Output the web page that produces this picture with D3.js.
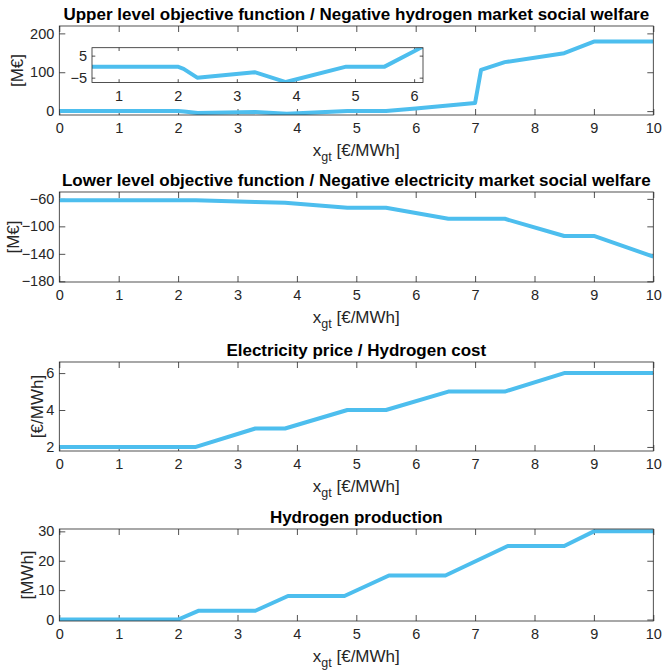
<!DOCTYPE html>
<html>
<head>
<meta charset="utf-8">
<script src="https://cdn.jsdelivr.net/npm/d3@7"></script>
<style>
  body { margin: 0; background: #fff; }
  svg { display: block; font-family: "Liberation Sans", Arial, Helvetica, sans-serif; }
  .tick text { fill: #262626; }
</style>
</head>
<body>
<div id="chart"></div>
<script>
// x axis values shared by every panel
const xTicks = [0, 1, 2, 3, 4, 5, 6, 7, 8, 9, 10];

// upper level objective (M€)
const upperX = [0, 2, 2.1, 2.33, 3.3, 3.83, 4.85, 5.5, 6, 6.5, 7, 7.1, 7.5, 8.5, 9, 10];
const upperY = [0, 0, -1, -5, -2.5, -7, 0, 0, 7, 14, 21, 106, 126, 149, 179, 179];
const upperTicks = [0, 100, 200];
const insetXTicks = [1, 2, 3, 4, 5, 6];
const insetYTicks = [-5, 5];

// lower level objective (M€)
const lowerX = [0, 2.3, 3.3, 3.8, 4.85, 5.5, 6.55, 7.5, 8.5, 9, 10];
const lowerY = [-62, -62, -64.5, -65.5, -73, -73, -89, -89, -114, -114, -144];
const lowerTicks = [-180, -140, -100, -60];

// electricity price (€/MWh)
const priceX = [0, 2.3, 3.3, 3.8, 4.85, 5.5, 6.55, 7.5, 8.5, 10];
const priceY = [2, 2, 3, 3, 4, 4, 5, 5, 6, 6];
const priceTicks = [2, 4, 6];

// hydrogen production (MWh)
const h2X = [0, 2, 2.35, 3.3, 3.85, 4.8, 5.55, 6.5, 7.55, 8.5, 9, 10];
const h2Y = [0, 0, 3, 3, 8, 8, 15, 15, 25, 25, 30, 30];
const h2Ticks = [0, 10, 20, 30];

const W = 663, H = 672;
const lineColor = "#4DBEEE";
const axisColor = "#262626";

const svg = d3.select("#chart").append("svg")
  .attr("width", W)
  .attr("height", H);

const x = d3.scaleLinear().domain([0, 10]).range([59.3, 653.3]);

let clipId = 0;

function drawAxes(g, xs, ys, xt, yt, tickLen, xPad) {
  const [x0, x1] = xs.range();
  const [y0, y1] = ys.range(); // y0 = bottom, y1 = top

  g.append("rect")
    .attr("x", x0).attr("y", y1)
    .attr("width", x1 - x0).attr("height", y0 - y1)
    .attr("fill", "#fff");

  const bottom = g.append("g")
    .attr("transform", `translate(0,${y0})`)
    .call(d3.axisBottom(xs).tickValues(xt).tickFormat(d3.format("d"))
      .tickSizeInner(-tickLen).tickSizeOuter(0).tickPadding(xPad));
  const top = g.append("g")
    .attr("transform", `translate(0,${y1})`)
    .call(d3.axisTop(xs).tickValues(xt).tickFormat("")
      .tickSizeInner(-tickLen).tickSizeOuter(0));
  const left = g.append("g")
    .attr("transform", `translate(${x0},0)`)
    .call(d3.axisLeft(ys).tickValues(yt).tickFormat(d3.format("d"))
      .tickSizeInner(-tickLen).tickSizeOuter(0).tickPadding(5));
  const right = g.append("g")
    .attr("transform", `translate(${x1},0)`)
    .call(d3.axisRight(ys).tickValues(yt).tickFormat("")
      .tickSizeInner(-tickLen).tickSizeOuter(0));

  [bottom, top, left, right].forEach(a => {
    a.select(".domain").remove();
    a.selectAll(".tick line").attr("stroke", axisColor).attr("stroke-width", 0.8);
    a.attr("font-size", 14.5).attr("font-family", null);
  });
}

function drawLine(g, xs, ys, xv, yv) {
  const [x0, x1] = xs.range();
  const [y0, y1] = ys.range();
  const id = "clip" + (clipId++);
  g.append("clipPath").attr("id", id)
    .append("rect")
    .attr("x", x0).attr("y", y1)
    .attr("width", x1 - x0).attr("height", y0 - y1);

  const pts = xv.map((d, i) => [d, yv[i]]);
  g.append("path")
    .datum(pts)
    .attr("clip-path", `url(#${id})`)
    .attr("fill", "none")
    .attr("stroke", lineColor)
    .attr("stroke-width", 4)
    .attr("stroke-linejoin", "round")
    .attr("d", d3.line().x(d => xs(d[0])).y(d => ys(d[1])));
}

function drawBox(g, xs, ys) {
  const [x0, x1] = xs.range();
  const [y0, y1] = ys.range();
  g.append("rect")
    .attr("x", x0).attr("y", y1)
    .attr("width", x1 - x0).attr("height", y0 - y1)
    .attr("fill", "none")
    .attr("stroke", axisColor)
    .attr("stroke-width", 0.8);
}

function panel(p) {
  const g = svg.append("g");
  const y = d3.scaleLinear().domain(p.domain).range([p.bottom, p.top]);

  drawAxes(g, x, y, xTicks, p.ticks, 6, 7.5);
  drawLine(g, x, y, p.xv, p.yv);
  drawBox(g, x, y);

  // title
  g.append("text")
    .attr("x", (x.range()[0] + x.range()[1]) / 2)
    .attr("y", p.top - 6)
    .attr("text-anchor", "middle")
    .attr("font-size", 17)
    .attr("font-weight", "bold")
    .attr("fill", "#000")
    .text(p.title);

  // y label
  g.append("text")
    .attr("transform", `translate(${p.ylabelX},${(p.top + p.bottom) / 2}) rotate(-90)`)
    .attr("dy", "0.35em")
    .attr("text-anchor", "middle")
    .attr("font-size", 17)
    .attr("fill", axisColor)
    .text(p.ylabel);

  // x label with subscript
  const xl = g.append("text")
    .attr("x", (x.range()[0] + x.range()[1]) / 2)
    .attr("y", p.bottom + 41)
    .attr("text-anchor", "middle")
    .attr("font-size", 17)
    .attr("fill", axisColor);
  xl.append("tspan").text("x");
  xl.append("tspan").attr("dy", 5).attr("font-size", 12.5).text("gt");
  xl.append("tspan").attr("dy", -5).text(" [€/MWh]");

  return g;
}

const p1 = panel({
  top: 26, bottom: 115, domain: [-10, 219], ticks: upperTicks,
  xv: upperX, yv: upperY, ylabelX: 17, ylabel: "[M€]",
  title: "Upper level objective function / Negative hydrogen market social welfare"
});

// inset zoom of the upper level objective
const ix = d3.scaleLinear().domain([0.55, 6.15]).range([92, 423]);
const iy = d3.scaleLinear().domain([-7.2, 8.6]).range([82.5, 47.7]);
drawAxes(p1, ix, iy, insetXTicks, insetYTicks, 3.3, 8);
drawLine(p1, ix, iy, upperX, upperY);
drawBox(p1, ix, iy);

panel({
  top: 192, bottom: 282, domain: [-181, -50], ticks: lowerTicks,
  xv: lowerX, yv: lowerY, ylabelX: 13, ylabel: "[M€]",
  title: "Lower level objective function / Negative electricity market social welfare"
});

panel({
  top: 362, bottom: 451, domain: [1.78, 6.6], ticks: priceTicks,
  xv: priceX, yv: priceY, ylabelX: 37, ylabel: "[€/MWh]",
  title: "Electricity price / Hydrogen cost"
});

panel({
  top: 529, bottom: 621, domain: [-0.5, 30.8], ticks: h2Ticks,
  xv: h2X, yv: h2Y, ylabelX: 27, ylabel: "[MWh]",
  title: "Hydrogen production"
});
</script>
</body>
</html>
